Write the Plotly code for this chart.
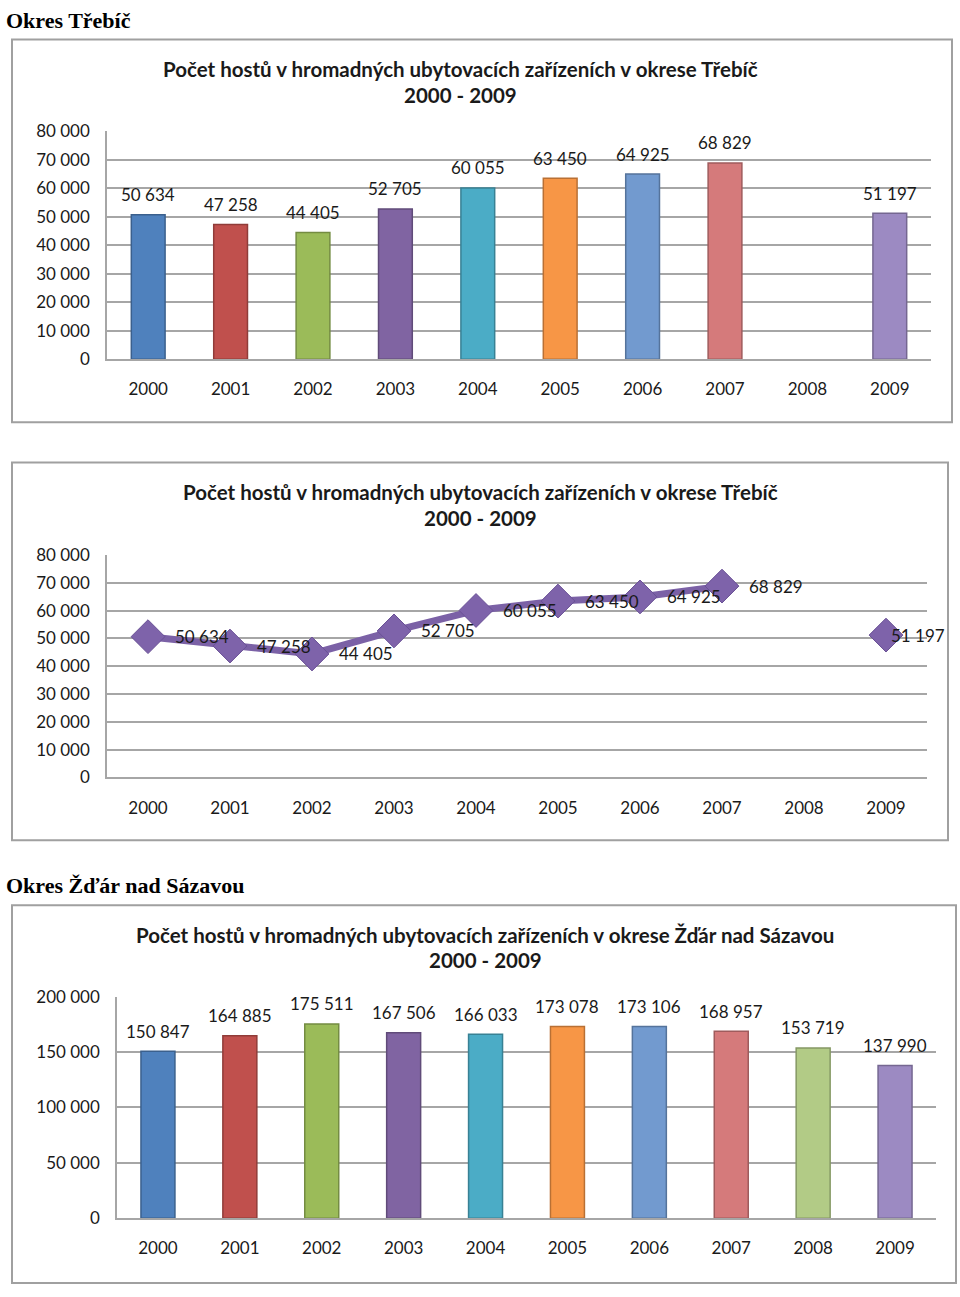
import plotly.graph_objects as go

W, H = 960, 1297

years = [2000, 2001, 2002, 2003, 2004, 2005, 2006, 2007, 2008, 2009]
trebic = [50634, 47258, 44405, 52705, 60055, 63450, 64925, 68829, None, 51197]
zdar = [150847, 164885, 175511, 167506, 166033, 173078, 173106, 168957, 153719, 137990]

bar_colors = ["#4F81BD", "#C0504D", "#9BBB59", "#8064A2", "#4BACC6",
              "#F79646", "#729ACF", "#D57A7B", "#B2CB86", "#9C8AC2"]
line_color = "#7B61A6"

title_trebic = "Počet hostů v hromadných ubytovacích zařízeních v okrese Třebíč"
title_zdar = "Počet hostů v hromadných ubytovacích zařízeních v okrese Žďár nad Sázavou"
period = "2000 - 2009"
heading_trebic = "Okres Třebíč"
heading_zdar = "Okres Žďár nad Sázavou"


def fmt(v):
    return f"{v:,}".replace(",", " ")


def px_x(x):
    return x / W


def px_y(y):
    return 1 - y / H


def darker(hexc, f=0.75):
    r, g, b = int(hexc[1:3], 16), int(hexc[3:5], 16), int(hexc[5:7], 16)
    return f"rgb({int(r*f)},{int(g*f)},{int(b*f)})"


FONT = "Lato, 'Open Sans', sans-serif"
TXT = "#1a1a1a"
GRID = "#a6a6a6"

fig = go.Figure()

# Chart 1: bars Třebíč
fig.add_trace(go.Bar(
    x=years, y=trebic, xaxis="x", yaxis="y", width=0.41,
    marker=dict(color=bar_colors, line=dict(color=[darker(c) for c in bar_colors], width=1.5)),
    hoverinfo="x+y", showlegend=False))

# Chart 2: line Třebíč
fig.add_trace(go.Scatter(
    x=years, y=trebic, xaxis="x2", yaxis="y2", mode="lines+markers",
    connectgaps=False,
    line=dict(color=line_color, width=7),
    marker=dict(symbol="diamond", size=26, color="#7E63AA",
                line=dict(color="#6A5196", width=1)),
    showlegend=False, cliponaxis=False))

# Chart 3: bars Žďár
fig.add_trace(go.Bar(
    x=years, y=zdar, xaxis="x3", yaxis="y3", width=0.415,
    marker=dict(color=bar_colors, line=dict(color=[darker(c) for c in bar_colors], width=1.5)),
    hoverinfo="x+y", showlegend=False))

annotations = []
for yr, v in zip(years, trebic):
    if v is None:
        continue
    annotations.append(dict(x=yr, y=v, xref="x", yref="y", text=fmt(v), showarrow=False,
                            yshift=20, yanchor="middle", font=dict(size=17, color=TXT, family=FONT)))
label_dx = [25, 25, 25, 25, 25, 25, 25, 25, 25, 3]
for yr, v, dx in zip(years, trebic, label_dx):
    if v is None:
        continue
    annotations.append(dict(x=yr, y=v, xref="x2", yref="y2", text=fmt(v), showarrow=False,
                            xanchor="left", xshift=dx, yanchor="middle",
                            font=dict(size=17, color=TXT, family=FONT)))
for yr, v in zip(years, zdar):
    annotations.append(dict(x=yr, y=v, xref="x3", yref="y3", text=fmt(v), showarrow=False,
                            yshift=20, yanchor="middle", font=dict(size=17, color=TXT, family=FONT)))

for cx, y1, txt in [(460, 59, title_trebic), (480, 489, title_trebic), (485, 939, title_zdar)]:
    annotations.append(dict(x=px_x(cx), y=px_y(y1), xref="paper", yref="paper", text=f"<b>{txt}</b>",
                            showarrow=False, xanchor="center", yanchor="middle",
                            font=dict(size=20.5, color=TXT, family=FONT)))
    annotations.append(dict(x=px_x(cx), y=px_y(y1 + 26), xref="paper", yref="paper", text=f"<b>{period}</b>",
                            showarrow=False, xanchor="center", yanchor="middle",
                            font=dict(size=20.5, color=TXT, family=FONT)))

for y, txt in [(10, heading_trebic), (889, heading_zdar)]:
    annotations.append(dict(x=px_x(4), y=px_y(y), xref="paper", yref="paper", text=f"<b>{txt}</b>",
                            showarrow=False, xanchor="left", yanchor="middle",
                            font=dict(size=22, color="#000000", family="'Liberation Serif', 'Times New Roman', serif")))

shapes = []
for x0, y0, x1, y1 in [(12, 29, 952, 418), (12, 459, 948, 843), (12, 909, 956, 1293)]:
    shapes.append(dict(type="rect", xref="paper", yref="paper",
                       x0=px_x(x0), x1=px_x(x1), y0=px_y(y1), y1=px_y(y0),
                       line=dict(color="#a0a0a0", width=2), fillcolor="rgba(0,0,0,0)", layer="below"))


def xax(dom, anchor):
    return dict(domain=[px_x(dom[0]), px_x(dom[1])], anchor=anchor, range=[1999.5, 2009.5],
                tickmode="array", tickvals=years, ticktext=[str(y) for y in years],
                showgrid=False, zeroline=False, showline=True, linecolor=GRID, linewidth=1.5,
                ticks="", ticklabelstandoff=14, tickfont=dict(size=17, color=TXT, family=FONT),
                fixedrange=True)


def yax(dom, anchor, rmax, dt):
    return dict(domain=[px_y(dom[1]), px_y(dom[0])], anchor=anchor, range=[0, rmax], dtick=dt,
                tickformat=",d", showgrid=True, gridcolor=GRID, gridwidth=1.5, zeroline=False,
                showline=True, linecolor=GRID, linewidth=1.5, ticks="", ticklabelstandoff=12,
                tickfont=dict(size=17, color=TXT, family=FONT), fixedrange=True)


fig.update_layout(
    width=W, height=H, margin=dict(l=0, r=0, t=0, b=0), autosize=False,
    paper_bgcolor="white", plot_bgcolor="white", separators=", ",
    xaxis=xax((107, 931), "y"), yaxis=yax((122, 354), "x", 80000, 10000),
    xaxis2=xax((107, 927), "y2"), yaxis2=yax((553, 779), "x2", 80000, 10000),
    xaxis3=xax((117, 936), "y3"), yaxis3=yax((1002, 1227), "x3", 200000, 50000),
    annotations=annotations, shapes=shapes, bargap=0.5,
)

post = ("document.documentElement.style.margin='0';document.body.style.margin='0';"
        "document.body.style.overflow='hidden';"
        "var d=document.getElementById('{plot_id}');"
        "d.style.position='fixed';d.style.top='0px';d.style.left='0px';")

fig.write_html("out.html", config={"displayModeBar": False}, post_script=post)
